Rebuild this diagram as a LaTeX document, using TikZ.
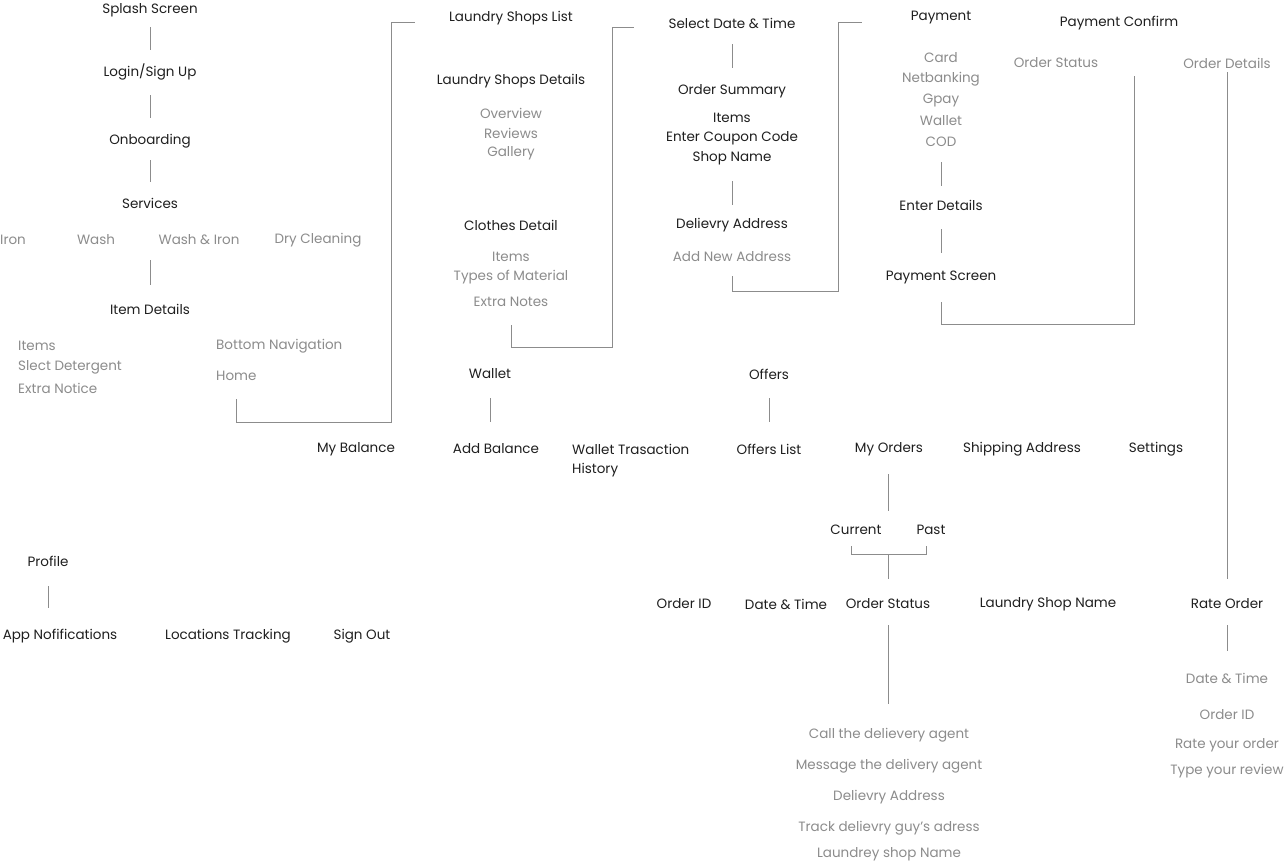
\documentclass[tikz,border=0pt]{standalone}
\usepackage{fontspec}
\setmainfont{Poppins}
\begin{document}
\begin{tikzpicture}[x=1pt,y=-1pt,
  b/.style={inner sep=0pt,text=black!88,font=\fontsize{13.5}{16}\selectfont},
  g/.style={inner sep=0pt,text=black!45,font=\fontsize{13.5}{16}\selectfont},
  ln/.style={draw=black!45,line width=0.8pt}]
\useasboundingbox[fill=white] (0,0) rectangle (1286,865);
% black nodes
\node[b] (splash) at (150,10) {Splash Screen};
\node[b] (login) at (150,72) {Login/Sign Up};
\node[b] (onb) at (150,141) {Onboarding};
\node[b] (serv) at (150,203) {Services};
\node[b] (item) at (150,309) {Item Details};
\node[b] (lsl) at (511,18) {Laundry Shops List};
\node[b] (lsd) at (511,81) {Laundry Shops Details};
\node[b] (cd) at (511,225) {Clothes Detail};
\node[b] (sdt) at (732,23) {Select Date \& Time};
\node[b] (os) at (732,91) {Order Summary};
\node[b] (osi) at (732,118) {Items};
\node[b] (osc) at (732,138) {Enter Coupon Code};
\node[b] (oss) at (732,158) {Shop Name};
\node[b] (da) at (732,225) {Delievry Address};
\node[b] (pay) at (941,18) {Payment};
\node[b] (ed) at (941,205) {Enter Details};
\node[b] (ps) at (941,277) {Payment Screen};
\node[b] (pc) at (1119,23) {Payment Confirm};
\node[b] (wal) at (490,374) {Wallet};
\node[b] (off) at (769,374) {Offers};
\node[b] (mb) at (356,449) {My Balance};
\node[b] (ab) at (496,449) {Add Balance};
\node[b,anchor=west] (wth) at (572,449) {Wallet Trasaction};
\node[b,anchor=west] (wth2) at (572,470) {History};
\node[b] (ol) at (769,449) {Offers List};
\node[b] (mo) at (889,449) {My Orders};
\node[b] (sa) at (1022,449) {Shipping Address};
\node[b] (set) at (1156,449) {Settings};
\node[b] (cur) at (856,530) {Current};
\node[b] (past) at (931,530) {Past};
\node[b] (oid) at (684,604) {Order ID};
\node[b] (odt) at (786,604) {Date \& Time};
\node[b] (ost) at (888,604) {Order Status};
\node[b] (lsn) at (1048,604) {Laundry Shop Name};
\node[b] (ro) at (1227,604) {Rate Order};
\node[b] (prof) at (48,561) {Profile};
\node[b] (appn) at (60,636) {App Nofifications};
\node[b] (loct) at (228,636) {Locations Tracking};
\node[b] (so) at (362,636) {Sign Out};
% gray nodes
\node[g] (iron) at (13,240) {Iron};
\node[g] (wash) at (96,240) {Wash};
\node[g] (wi) at (199,240) {Wash \& Iron};
\node[g] (dc) at (318,240) {Dry Cleaning};
\node[g,anchor=west] (idi) at (18,346) {Items};
\node[g,anchor=west] (idd) at (18,367) {Slect Detergent};
\node[g,anchor=west] (idn) at (18,388) {Extra Notice};
\node[g,anchor=west] (bn) at (216,346) {Bottom Navigation};
\node[g,anchor=west] (home) at (216,376) {Home};
\node[g] (ov) at (511,113) {Overview};
\node[g] (rev) at (511,133) {Reviews};
\node[g] (gal) at (511,153) {Gallery};
\node[g] (cdi) at (511,257) {Items};
\node[g] (cdm) at (511,277) {Types of Material};
\node[g] (cdn) at (511,302) {Extra Notes};
\node[g] (ana) at (732,257) {Add New Address};
\node[g] (card) at (941,58) {Card};
\node[g] (nb) at (941,79) {Netbanking};
\node[g] (gp) at (941,100) {Gpay};
\node[g] (pw) at (941,121) {Wallet};
\node[g] (cod) at (941,142) {COD};
\node[g] (pcs) at (1056,63) {Order Status};
\node[g] (pcd) at (1227,63) {Order Details};
\node[g] (s1) at (889,735) {Call the delievery agent};
\node[g] (s2) at (889,766) {Message the delivery agent};
\node[g] (s3) at (889,797) {Delievry Address};
\node[g] (s4) at (889,828) {Track delievry guy’s adress};
\node[g] (s5) at (889,854) {Laundrey shop Name};
\node[g] (r1) at (1227,678) {Date \& Time};
\node[g] (r2) at (1227,715) {Order ID};
\node[g] (r3) at (1227,745) {Rate your order};
\node[g] (r4) at (1227,771) {Type your review};
% connectors
\draw[ln] (150,27) -- (150,50);
\draw[ln] (150,95) -- (150,118);
\draw[ln] (150,160) -- (150,182);
\draw[ln] (150,260) -- (150,285);
\draw[ln] (236,399) -- (236,422) -- (391,422) -- (391,22) -- (415,22);
\draw[ln] (511,325) -- (511,347) -- (612,347) -- (612,27) -- (634,27);
\draw[ln] (732,44) -- (732,68);
\draw[ln] (732,181) -- (732,205);
\draw[ln] (732,276) -- (732,291) -- (838,291) -- (838,22) -- (862,22);
\draw[ln] (941,162) -- (941,186);
\draw[ln] (941,229) -- (941,253);
\draw[ln] (941,302) -- (941,324) -- (1134,324) -- (1134,76);
\draw[ln] (1227,72) -- (1227,579);
\draw[ln] (490,398) -- (490,422);
\draw[ln] (769,398) -- (769,422);
\draw[ln] (888,474) -- (888,511);
\draw[ln] (851,546) -- (851,554) -- (926,554) -- (926,546);
\draw[ln] (888,554) -- (888,579);
\draw[ln] (888,625) -- (888,704);
\draw[ln] (1227,625) -- (1227,651);
\draw[ln] (48,586) -- (48,608);
\end{tikzpicture}
\end{document}
